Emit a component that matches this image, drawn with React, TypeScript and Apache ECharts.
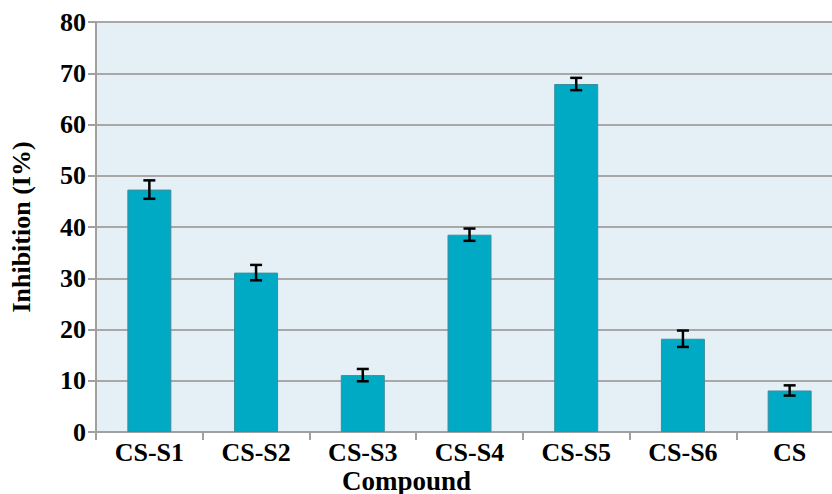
import React, { useEffect, useRef } from "react";
import * as echarts from "echarts";

const categories = ["CS-S1", "CS-S2", "CS-S3", "CS-S4", "CS-S5", "CS-S6", "CS"];
const inhibition = [47.3, 31.1, 11.1, 38.5, 67.9, 18.2, 8.1];
const errors = [1.8, 1.5, 1.2, 1.2, 1.2, 1.6, 1.0];
const yTicks = [0, 10, 20, 30, 40, 50, 60, 70, 80];

const FONT = "'Liberation Serif', 'Times New Roman', serif";

export default function App() {
  const ref = useRef<HTMLDivElement>(null);
  useEffect(() => {
    if (!ref.current) return;
    const chart = echarts.init(ref.current, null, { renderer: "svg" });
    const errData = categories.map((_, i) => [i, inhibition[i] - errors[i], inhibition[i] + errors[i]]);
    chart.setOption({
      animation: false,
      backgroundColor: "#ffffff",
      grid: {
        left: 96,
        top: 22,
        width: 747,
        bottom: 62,
        show: true,
        backgroundColor: "#e4f0f6",
        borderWidth: 0,
      },
      xAxis: {
        type: "category",
        data: categories,
        axisLine: { show: true, lineStyle: { color: "#a0a0a0", width: 2 } },
        axisTick: { show: true, length: 8, lineStyle: { color: "#a0a0a0", width: 2 } },
        axisLabel: {
          color: "#000",
          fontFamily: FONT,
          fontWeight: "bold",
          fontSize: 26,
          margin: 7,
        },
        splitLine: { show: false },
      },
      yAxis: {
        type: "value",
        min: 0,
        max: 80,
        interval: 10,
        name: "Inhibition (I%)",
        nameLocation: "middle",
        nameGap: 62,
        nameTextStyle: {
          color: "#000",
          fontFamily: FONT,
          fontWeight: "bold",
          fontSize: 26,
        },
        axisLine: { show: true, lineStyle: { color: "#a0a0a0", width: 2 } },
        axisTick: { show: true, length: 8, lineStyle: { color: "#a0a0a0", width: 2 } },
        axisLabel: {
          color: "#000",
          fontFamily: FONT,
          fontWeight: "bold",
          fontSize: 26,
          margin: 10,
          formatter: (v: number) => (yTicks.includes(v) ? String(v) : ""),
        },
        splitLine: { show: true, lineStyle: { color: "#a8a8a8", width: 2 } },
      },
      graphic: [
        {
          type: "text",
          left: 342,
          top: 467,
          style: {
            text: "Compound",
            fill: "#000",
            font: `bold 27px ${FONT}`,
          },
        },
      ],
      series: [
        {
          type: "bar",
          data: inhibition,
          barWidth: 44,
          itemStyle: { color: "#00a9c4", borderColor: "#3d8e9c", borderWidth: 1 },
          z: 2,
        },
        {
          type: "custom",
          data: errData,
          z: 5,
          renderItem: (params: any, api: any) => {
            const x = api.value(0);
            const lo = api.coord([x, api.value(1)]);
            const hi = api.coord([x, api.value(2)]);
            const half = 6;
            const style = { stroke: "#000", lineWidth: 2.5 };
            return {
              type: "group",
              children: [
                { type: "line", shape: { x1: lo[0], y1: lo[1], x2: hi[0], y2: hi[1] }, style },
                { type: "line", shape: { x1: lo[0] - half, y1: lo[1], x2: lo[0] + half, y2: lo[1] }, style },
                { type: "line", shape: { x1: hi[0] - half, y1: hi[1], x2: hi[0] + half, y2: hi[1] }, style },
              ],
            };
          },
        },
      ],
    });
    return () => chart.dispose();
  }, []);
  return (
    <div style={{ position: "fixed", left: 0, top: 0, width: 832, height: 494, overflow: "hidden", background: "#fff" }}>
      <div ref={ref} style={{ width: 845, height: 494 }} />
    </div>
  );
}
